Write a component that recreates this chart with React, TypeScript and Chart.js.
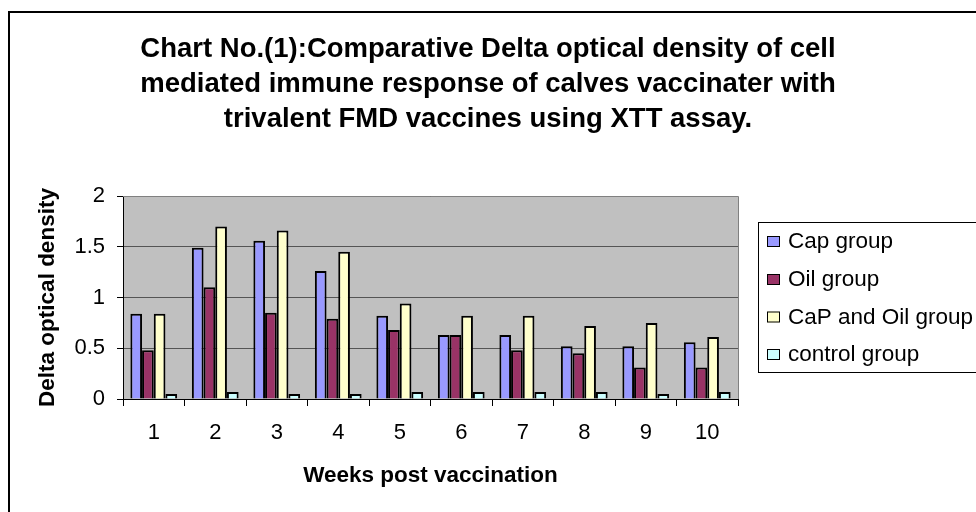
import React, { useEffect, useRef } from 'react';
import { Chart, registerables } from 'chart.js';

Chart.register(...registerables);

const weeks = ['1', '2', '3', '4', '5', '6', '7', '8', '9', '10'];
const capGroup = [0.84, 1.49, 1.56, 1.26, 0.82, 0.63, 0.63, 0.52, 0.52, 0.56];
const oilGroup = [0.48, 1.1, 0.85, 0.79, 0.68, 0.63, 0.48, 0.45, 0.31, 0.31];
const capOilGroup = [0.84, 1.7, 1.66, 1.45, 0.94, 0.82, 0.82, 0.72, 0.75, 0.61];
const controlGroup = [0.05, 0.07, 0.05, 0.05, 0.07, 0.07, 0.07, 0.07, 0.05, 0.07];
const seriesLabels = ['Cap group', 'Oil group', 'CaP and Oil group', 'control group'];
const seriesColors = ['#9999FF', '#993366', '#FFFFCC', '#CCFFFF'];
const titleLines = [
  'Chart No.(1):Comparative Delta optical density of cell',
  'mediated immune response of calves vaccinater with',
  'trivalent FMD vaccines using XTT assay.',
];
const yAxisTitle = 'Delta optical density';
const xAxisTitle = 'Weeks post vaccination';

const FONT = "'Liberation Sans', Arial, sans-serif";

const decorPlugin = {
  id: 'decor',
  beforeDraw(chart: any) {
    const { ctx, chartArea } = chart;
    ctx.save();
    ctx.fillStyle = '#ffffff';
    ctx.fillRect(0, 0, chart.width, chart.height);
    ctx.fillStyle = '#C0C0C0';
    ctx.fillRect(chartArea.left, chartArea.top, chartArea.right - chartArea.left, chartArea.bottom - chartArea.top);
    ctx.restore();
  },
  afterDraw(chart: any) {
    const { ctx, chartArea } = chart;
    ctx.save();
    // plot area top/right border
    ctx.strokeStyle = '#808080';
    ctx.lineWidth = 1;
    ctx.beginPath();
    ctx.moveTo(chartArea.left, chartArea.top + 0.5);
    ctx.lineTo(chartArea.right + 0.5, chartArea.top + 0.5);
    ctx.lineTo(chartArea.right + 0.5, chartArea.bottom);
    ctx.stroke();
    // outer frame
    ctx.strokeStyle = '#000000';
    ctx.lineWidth = 2;
    ctx.beginPath();
    ctx.moveTo(9, chart.height + 2);
    ctx.lineTo(9, 12);
    ctx.lineTo(chart.width + 2, 12);
    ctx.stroke();
    // legend
    const boxLeft = 758.5;
    const boxTop = 222.5;
    const boxBottom = 372.5;
    ctx.lineWidth = 1;
    ctx.strokeStyle = '#000000';
    ctx.strokeRect(boxLeft, boxTop, chart.width + 10 - boxLeft, boxBottom - boxTop);
    const rowY = [241, 279, 316.5, 354];
    ctx.font = `22.5px ${FONT}`;
    ctx.textBaseline = 'middle';
    ctx.textAlign = 'left';
    chart.data.datasets.forEach((ds: any, i: number) => {
      const y = rowY[i];
      ctx.fillStyle = ds.backgroundColor;
      ctx.fillRect(767, y - 5, 12, 11);
      ctx.strokeStyle = '#000';
      ctx.lineWidth = 1;
      ctx.strokeRect(767.5, y - 4.5, 12, 10);
      ctx.fillStyle = '#000';
      ctx.fillText(ds.label, 788, y + 1);
    });
    ctx.restore();
  },
};

export default function App() {
  const ref = useRef<HTMLCanvasElement>(null);
  useEffect(() => {
    if (!ref.current) return;
    const data = [capGroup, oilGroup, capOilGroup, controlGroup];
    const chart = new Chart(ref.current, {
      type: 'bar',
      data: {
        labels: weeks,
        datasets: seriesLabels.map((label, i) => ({
          label,
          data: data[i],
          backgroundColor: seriesColors[i],
          borderColor: '#000000',
          borderWidth: 2,
          categoryPercentage: 0.76,
          barPercentage: 1.0,
        })),
      },
      options: {
        animation: false,
        responsive: false,
        devicePixelRatio: 1,
        layout: { padding: { left: 0, right: 0, top: 0, bottom: 0 } },
        plugins: {
          legend: { display: false },
          tooltip: { enabled: false },
          title: {
            display: true,
            text: titleLines,
            color: '#000',
            font: { family: FONT, size: 27.5, weight: 'bold', lineHeight: '35px' } as any,
            padding: { top: 32, bottom: 59 },
          },
        },
        scales: {
          x: {
            grid: {
              display: true,
              offset: true,
              drawOnChartArea: false,
              drawTicks: true,
              tickLength: 7,
              color: '#000',
              tickColor: '#000',
            },
            border: { display: true, color: '#000', width: 1 },
            ticks: { color: '#000', font: { family: FONT, size: 22 }, padding: 14, maxRotation: 0 },
            title: {
              display: true,
              text: xAxisTitle,
              color: '#000',
              font: { family: FONT, size: 22.5, weight: 'bold' },
              padding: { top: 0, bottom: 22.5 },
            },
            afterFit: (scale: any) => { scale.height = 113; },
          },
          y: {
            min: 0,
            max: 2,
            ticks: {
              stepSize: 0.5,
              color: '#000',
              font: { family: FONT, size: 22 },
              padding: 12,
              callback: (v: any) => String(Number(v)),
            },
            grid: { color: '#555', tickColor: '#000', tickLength: 6, lineWidth: 1 },
            border: { display: true, color: '#000', width: 1 },
            title: {
              display: true,
              text: yAxisTitle,
              color: '#000',
              font: { family: FONT, size: 22.5, weight: 'bold' },
              padding: { top: 34.5, bottom: 0 },
            },
            afterFit: (scale: any) => { scale.width = 123; },
          },
          legendSpace: {
            type: 'linear',
            position: 'right',
            display: true,
            grid: { display: false, drawOnChartArea: false },
            border: { display: false },
            ticks: { display: false },
            afterFit: (scale: any) => { scale.width = 238; },
          },
        },
      },
      plugins: [decorPlugin],
    });
    return () => chart.destroy();
  }, []);
  return (
    <div style={{ position: 'fixed', left: 0, top: 0, width: 976, height: 512, background: '#fff' }}>
      <canvas ref={ref} width={976} height={512} style={{ display: 'block', width: 976, height: 512 }} />
    </div>
  );
}
